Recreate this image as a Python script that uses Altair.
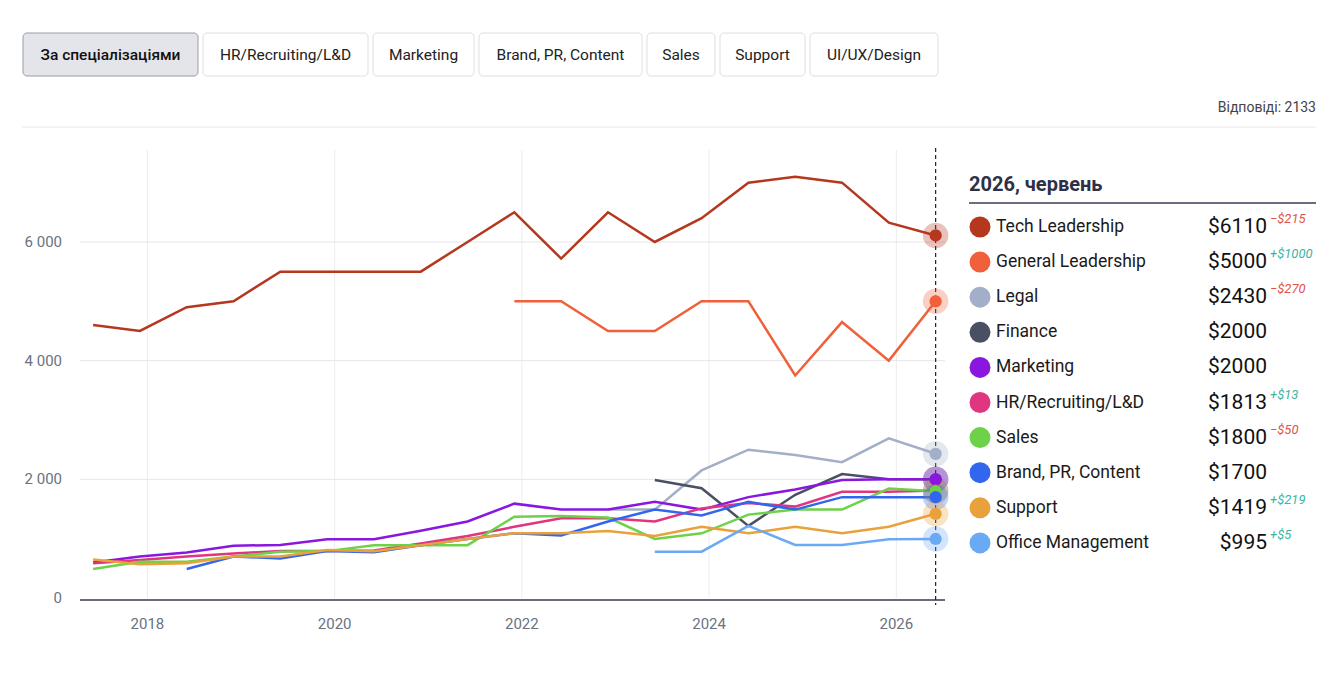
import pandas as pd
import altair as alt

# half-year survey points, June 2017 .. June 2026
dates = [2017.42 + 0.5 * i for i in range(19)]

series = {
    "Tech Leadership": [4600, 4500, 4900, 5000, 5500, 5500, 5500, 5500, 6000,
                        6500, 5720, 6500, 6000, 6400, 7000, 7100, 7000, 6325, 6110],
    "General Leadership": [None] * 9 + [5000, 5000, 4500, 4500, 5000, 5000, 3750, 4650, 4000, 5000],
    "Legal": [None] * 11 + [1490, 1490, 2150, 2500, 2410, 2290, 2690, 2430],
    "Finance": [None] * 12 + [1990, 1850, 1215, 1740, 2090, 2000, 2000],
    "Marketing": [600, 700, 765, 880, 895, 990, 990, 1135, 1290, 1590,
                  1490, 1490, 1620, 1490, 1700, 1830, 1990, 2000, 2000],
    "HR/Recruiting/L&D": [585, 640, 700, 750, 790, 790, 800, 920, 1045, 1200,
                          1345, 1345, 1290, 1510, 1600, 1540, 1790, 1790, 1813],
    "Sales": [490, 610, 610, 700, 780, 790, 890, 890, 890, 1370,
              1380, 1355, 995, 1090, 1405, 1490, 1490, 1845, 1800],
    "Brand, PR, Content": [None, None, 490, 700, 665, 790, 770, 890, 995, 1090,
                           1055, 1290, 1490, 1390, 1620, 1490, 1700, 1700, 1700],
    "Support": [650, 570, 585, 700, 700, 810, 790, 890, 995, 1090,
                1090, 1130, 1045, 1200, 1090, 1200, 1090, 1200, 1419],
    "Office Management": [None] * 12 + [780, 780, 1215, 895, 895, 990, 995],
}
colors = ["#b5371e", "#f0603a", "#a3aec8", "#4a5063", "#8a17e0",
          "#e0357f", "#6ed14a", "#3366ee", "#e9a23b", "#6aaaf5"]
names = list(series.keys())
last_values = ["$6110", "$5000", "$2430", "$2000", "$2000", "$1813", "$1800", "$1700", "$1419", "$995"]
deltas = ["−$215", "+$1000", "−$270", "", "", "+$13", "−$50", "", "+$219", "+$5"]
buttons = ["За спеціалізаціями", "HR/Recruiting/L&D", "Marketing", "Brand, PR, Content",
           "Sales", "Support", "UI/UX/Design"]
button_edges = [23, 198, 203, 368, 373, 474, 479, 642, 647, 715, 720, 805, 810, 938]
x_ticks = [2018, 2020, 2022, 2024, 2026]
y_ticks = [0, 2000, 4000, 6000]

rows = []
for name, vals in series.items():
    for t, v in zip(dates, vals):
        if v is not None:
            rows.append({"t": t, "value": v, "series": name})
df = pd.DataFrame(rows)
last = df[df["t"] == dates[-1]]

O = 8  # page margin
FONT = "Roboto"
xs = alt.Scale(domain=[2017.28, 2026.52], range=[80 - O, 945 - O])
ys = alt.Scale(domain=[0, 7550], range=[598 - O, 150 - O])
cs = alt.Scale(domain=names, range=colors)
X = lambda f: alt.X(f, scale=xs, axis=None)
Y = lambda f: alt.Y(f, scale=ys, axis=None)

vgrid = alt.Chart(pd.DataFrame({"t": x_ticks})).mark_rule(color="#ececec").encode(
    x=X("t:Q"), y=alt.value(150 - O), y2=alt.value(598 - O))
hgrid = alt.Chart(pd.DataFrame({"v": y_ticks[1:]})).mark_rule(color="#e6e6e6").encode(
    y=Y("v:Q"), x=alt.value(80 - O), x2=alt.value(945 - O))
xlab = alt.Chart(pd.DataFrame({"t": x_ticks})).mark_text(
    font=FONT, fontSize=15, color="#6b7280", baseline="middle").encode(
    x=X("t:Q"), y=alt.value(624 - O), text=alt.Text("t:Q", format="d"))
ylab = alt.Chart(pd.DataFrame({"v": y_ticks})).mark_text(
    font=FONT, fontSize=15, color="#6b7280", align="right", baseline="middle").encode(
    y=Y("v:Q"), x=alt.value(62 - O),
    text=alt.Text("lab:N")).transform_calculate(
    lab="replace(format(datum.v, ',d'), ',', ' ')")
axis_line = alt.Chart(pd.DataFrame({"a": [0]})).mark_rule(color="#666c7a", strokeWidth=2).encode(
    y=alt.value(600 - O), x=alt.value(80 - O), x2=alt.value(945 - O))

lines = alt.Chart(df).mark_line(strokeWidth=2.5).encode(
    x=X("t:Q"), y=Y("value:Q"),
    color=alt.Color("series:N", scale=cs, legend=None), detail="series:N")
cursor = alt.Chart(pd.DataFrame({"t": [dates[-1]]})).mark_rule(
    color="#222", strokeDash=[4, 3], strokeWidth=1.2).encode(
    x=X("t:Q"), y=alt.value(148 - O), y2=alt.value(605 - O))
halo = alt.Chart(last).mark_circle(size=650, opacity=0.3).encode(
    x=X("t:Q"), y=Y("value:Q"), color=alt.Color("series:N", scale=cs, legend=None))
dots = alt.Chart(last).mark_circle(size=150, opacity=1).encode(
    x=X("t:Q"), y=Y("value:Q"), color=alt.Color("series:N", scale=cs, legend=None))

# top buttons
bdf = pd.DataFrame({"label": buttons, "x0": button_edges[0::2], "x1": button_edges[1::2],
                    "sel": [1] + [0] * (len(buttons) - 1)})
bdf["xc"] = (bdf["x0"] + bdf["x1"]) / 2 - O
bdf["x0"] -= O
bdf["x1"] -= O
pix = lambda f: alt.X(f, scale=None, axis=None)
brect = alt.Chart(bdf).mark_rect(cornerRadius=4, strokeWidth=1).encode(
    x=pix("x0:Q"), x2="x1:Q", y=alt.value(33 - O), y2=alt.value(76 - O),
    fill=alt.condition("datum.sel == 1", alt.value("#e4e5ea"), alt.value("white")),
    stroke=alt.condition("datum.sel == 1", alt.value("#9a9ca6"), alt.value("#dedede")))
btext_sel = alt.Chart(bdf[bdf["sel"] == 1]).mark_text(
    font=FONT, fontSize=15.5, fontWeight=500, color="#111", baseline="middle").encode(
    x=pix("xc:Q"), y=alt.value(55 - O), text="label:N")
btext = alt.Chart(bdf[bdf["sel"] == 0]).mark_text(
    font=FONT, fontSize=15.5, color="#222", baseline="middle").encode(
    x=pix("xc:Q"), y=alt.value(55 - O), text="label:N")
answers = alt.Chart(pd.DataFrame({"s": ["Відповіді: 2133"]})).mark_text(
    font=FONT, fontSize=14, color="#444", align="right", baseline="middle").encode(
    x=alt.value(1316 - O), y=alt.value(108 - O), text="s:N")
sep = alt.Chart(pd.DataFrame({"a": [0]})).mark_rule(color="#e8e8e8").encode(
    y=alt.value(127 - O), x=alt.value(22 - O), x2=alt.value(1316 - O))

# legend panel
ldf = pd.DataFrame({"series": names, "val": last_values, "delta": deltas, "i": range(len(names))})
ldf["y"] = 227 - O + ldf["i"] * 35.1
ldf["neg"] = ldf["delta"].str.startswith("−")
py = lambda f: alt.Y(f, scale=None, axis=None)
head = alt.Chart(pd.DataFrame({"s": ["2026, червень"]})).mark_text(
    font=FONT, fontSize=20, fontWeight="bold", color="#2d3047", align="left", baseline="middle").encode(
    x=alt.value(969 - O), y=alt.value(185 - O), text="s:N")
head_line = alt.Chart(pd.DataFrame({"a": [0]})).mark_rule(color="#3a3d55", strokeWidth=1.5).encode(
    y=alt.value(203 - O), x=alt.value(969 - O), x2=alt.value(1316 - O))
ldot = alt.Chart(ldf).mark_circle(size=440, opacity=1).encode(
    x=alt.value(980 - O), y=py("y:Q"), color=alt.Color("series:N", scale=cs, legend=None))
lname = alt.Chart(ldf).mark_text(font=FONT, fontSize=17.5, color="#1a1a1a", align="left", baseline="middle").encode(
    x=alt.value(996 - O), y=py("y:Q"), text="series:N")
lval = alt.Chart(ldf).mark_text(font=FONT, fontSize=21, color="#111", align="right", baseline="middle").encode(
    x=alt.value(1267 - O), y=py("y:Q"), text="val:N")
ldelta = alt.Chart(ldf).mark_text(font=FONT, fontSize=13, fontStyle="italic", align="left",
                                  baseline="middle", dy=-8).encode(
    x=alt.value(1270 - O), y=py("y:Q"), text="delta:N",
    color=alt.condition("datum.neg", alt.value("#e0524a"), alt.value("#3bb5a0")))

chart = alt.layer(
    vgrid, hgrid, axis_line, xlab, ylab, lines, cursor, halo, dots,
    brect, btext_sel, btext, answers, sep, head, head_line, ldot, lname, lval, ldelta,
).resolve_scale(x="independent", y="independent").properties(
    width=1322, height=666, autosize=alt.AutoSizeParams(type="none"), padding=0
).configure_view(stroke=None)

chart.save("out.html", embed_options={"renderer": "svg", "actions": False})
